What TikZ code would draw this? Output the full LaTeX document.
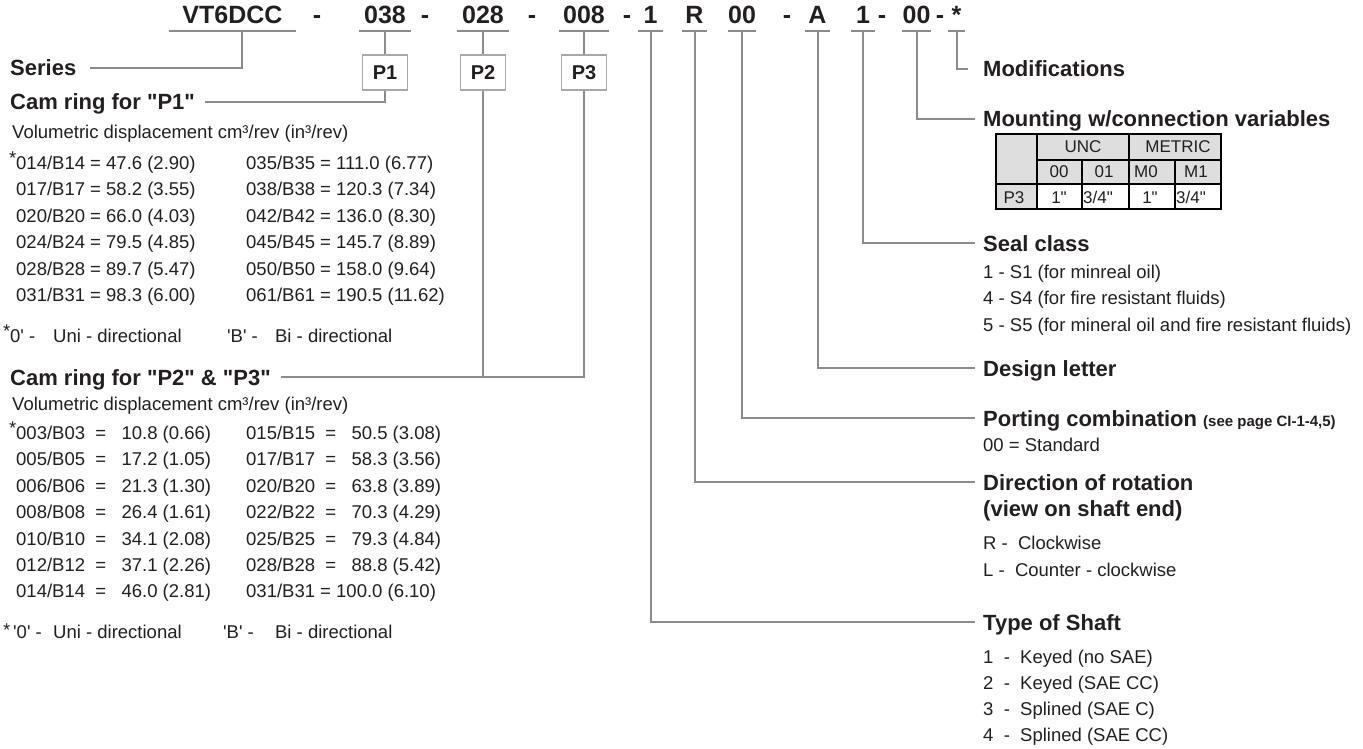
\documentclass[tikz,border=0pt]{standalone}
\usepackage{fontspec}
\setmainfont{Liberation Sans}[Ligatures=TeXOff]
\usetikzlibrary{calc}
\definecolor{ink}{HTML}{231F20}
\definecolor{leadgrey}{HTML}{8C8C8C}
\definecolor{boxgrey}{HTML}{A8A8A8}
\definecolor{cellgrey}{HTML}{DEDEDE}
\newcommand\bodyfont{\fontsize{18.5}{22}\selectfont}
\newcommand\headfont{\fontsize{22}{26}\selectfont\bfseries}
\newcommand\codefont{\fontsize{25}{30}\selectfont\bfseries}
\newcommand\boxfont{\fontsize{20}{24}\selectfont\bfseries}
\newcommand\tabfont{\fontsize{17}{20}\selectfont}
\newcommand\fnstar{\llap{\raisebox{5pt}{*}}}
\tikzset{
	lead/.style={draw=leadgrey, line width=2pt},
	codepart/.style={font=\codefont, text=ink, inner sep=0pt, anchor=south, text height=18pt, text depth=7pt},
	pbox/.style={draw=boxgrey, line width=1.5pt, font=\boxfont, text=ink, minimum width=45pt, minimum height=35pt, inner sep=0pt},
	head/.style={font=\headfont, text=ink, anchor=west, inner sep=0pt, text height=16pt, text depth=0pt},
	body/.style={font=\bodyfont, text=ink, anchor=west, inner sep=0pt, text height=13pt, text depth=0pt},
	cell/.style={font=\tabfont, text=ink, inner sep=0pt, text height=12pt, text depth=0pt},
	tabline/.style={draw=black, line width=1.6pt},
}

\begin{document}
\begin{tikzpicture}[x=1pt,y=-1pt]
	%%%%% START %%%%%
	\def\ucode{31}
	\def\ybox{72.5}
	\def\xr{983}
	\def\xl{16}
	\def\xll{246}
	\useasboundingbox (0,0) rectangle (1363,749);

	% code line
	\node[codepart, minimum width=127pt] (cvt) at (232.5,\ucode) {VT6DCC};
	\node[codepart, minimum width=52pt] (cpa) at (385,\ucode) {038};
	\node[codepart, minimum width=52pt] (cpb) at (483,\ucode) {028};
	\node[codepart, minimum width=50pt] (cpc) at (584,\ucode) {008};
	\node[codepart, minimum width=24pt] (cshaft) at (650.5,\ucode) {1};
	\node[codepart, minimum width=25pt] (crot) at (694.5,\ucode) {R};
	\node[codepart, minimum width=24pt] (cport) at (742,\ucode) {00};
	\node[codepart, minimum width=25pt] (cdes) at (817.5,\ucode) {A};
	\node[codepart, minimum width=24pt] (cseal) at (863,\ucode) {1};
	\node[codepart, minimum width=29pt] (cmount) at (916.5,\ucode) {00};
	\node[codepart, minimum width=17pt] (cmod) at (956.5,\ucode) {*};
	\foreach \x [count=\i] in {317,425,532,627,787,882,940}
		\node[codepart] (hy\i) at (\x,\ucode) {-};
	\foreach \n in {cvt,cpa,cpb,cpc,cshaft,crot,cport,cdes,cseal,cmount,cmod}
		\draw[lead] (\n.south west) -- (\n.south east);

	\node[pbox] (P1) at (385,\ybox) {P1};
	\node[pbox] (P2) at (483,\ybox) {P2};
	\node[pbox] (P3) at (584,\ybox) {P3};

	% left column
	\node[head] (series) at (10,68) {Series};
	\node[head] (camone) at (10,102) {Cam ring for "P1"};
	\node[body] (volone) at (12,132) {Volumetric displacement cm³/rev (in³/rev)};
	\foreach \t [count=\i] in {{\fnstar014/B14 = 47.6 (2.90)},{017/B17 = 58.2 (3.55)},{020/B20 = 66.0 (4.03)},{024/B24 = 79.5 (4.85)},{028/B28 = 89.7 (5.47)},{031/B31 = 98.3 (6.00)}}
		\node[body] (ra\i) at (\xl,{163+26.4*(\i-1)}) {\t};
	\foreach \t [count=\i] in {{035/B35 = 111.0 (6.77)},{038/B38 = 120.3 (7.34)},{042/B42 = 136.0 (8.30)},{045/B45 = 145.7 (8.89)},{050/B50 = 158.0 (9.64)},{061/B61 = 190.5 (11.62)}}
		\node[body] (rb\i) at (\xll,{163+26.4*(\i-1)}) {\t};
	\node[body] (fnone) at (10,336) {\makebox[43pt][l]{\fnstar0' -}\makebox[174pt][l]{Uni - directional}\makebox[48pt][l]{'B' -}Bi - directional};

	\node[head] (camtwo) at (10,377) {Cam ring for "P2" \& "P3"};
	\node[body] (voltwo) at (12,404) {Volumetric displacement cm³/rev (in³/rev)};
	\foreach \t [count=\i] in {{\fnstar003/B03~~=~~~10.8 (0.66)},{005/B05~~=~~~17.2 (1.05)},{006/B06~~=~~~21.3 (1.30)},{008/B08~~=~~~26.4 (1.61)},{010/B10~~=~~~34.1 (2.08)},{012/B12~~=~~~37.1 (2.26)},{014/B14~~=~~~46.0 (2.81)}}
		\node[body] (rc\i) at (\xl,{433+26.4*(\i-1)}) {\t};
	\foreach \t [count=\i] in {{015/B15~~=~~~50.5 (3.08)},{017/B17~~=~~~58.3 (3.56)},{020/B20~~=~~~63.8 (3.89)},{022/B22~~=~~~70.3 (4.29)},{025/B25~~=~~~79.3 (4.84)},{028/B28~~=~~~88.8 (5.42)},{031/B31 = 100.0 (6.10)}}
		\node[body] (rd\i) at (\xll,{433+26.4*(\i-1)}) {\t};
	\node[body] (fntwo) at (3,632) {\makebox[10pt][l]{\raisebox{2pt}{*}}\makebox[40pt][l]{'0' -}\makebox[170pt][l]{Uni - directional}\makebox[52pt][l]{'B' -}Bi - directional};

	% right column
	\node[head] (mods) at (\xr,69) {Modifications};
	\node[head] (mount) at (\xr,119) {Mounting w/connection variables};
	\node[head] (seal) at (\xr,243) {Seal class};
	\node[body] (sa) at (\xr,272) {1 - S1 (for minreal oil)};
	\node[body] (sb) at (\xr,298) {4 - S4 (for fire resistant fluids)};
	\node[body] (sc) at (\xr,325) {5 - S5 (for mineral oil and fire resistant fluids)};
	\node[head] (design) at (\xr,368) {Design letter};
	\node[head] (port) at (\xr,418) {Porting combination {\fontsize{15}{18}\selectfont(see page CI-1-4,5)}};
	\node[body] (pa) at (\xr,445) {00 = Standard};
	\node[head] (rot) at (\xr,482) {Direction of rotation};
	\node[head] (rotb) at (\xr,508) {(view on shaft end)};
	\node[body] (ra) at (\xr,543) {R~-~~Clockwise};
	\node[body] (rb) at (\xr,570) {L~-~~Counter - clockwise};
	\node[head] (shaft) at (\xr,622) {Type of Shaft};
	\foreach \t [count=\i] in {{1~~-~~Keyed (no SAE)},{2~~-~~Keyed (SAE CC)},{3~~-~~Splined (SAE C)},{4~~-~~Splined (SAE CC)}}
		\node[body] (sh\i) at (\xr,{657+26*(\i-1)}) {\t};

	% mounting table
	\fill[cellgrey] (996,134) rectangle (1221,184);
	\fill[cellgrey] (996,184) rectangle (1037,209);
	\draw[tabline] (996,134) rectangle (1221,209);
	\draw[tabline] (1037,134) -- (1037,209);
	\draw[tabline] (1129,134) -- (1129,209);
	\draw[tabline] (1037,160) -- (1221,160);
	\draw[tabline] (996,184) -- (1221,184);
	\draw[tabline] (1082,160) -- (1082,209);
	\draw[tabline] (1175,160) -- (1175,209);
	\node[cell] (tunc) at (1083,147) {UNC};
	\node[cell] (tmet) at (1178,147) {METRIC};
	\node[cell] (tza) at (1059,172) {00};
	\node[cell] (tzb) at (1104,172) {01};
	\node[cell] (tma) at (1146,172) {M0};
	\node[cell] (tmb) at (1196,172) {M1};
	\node[cell] (tp) at (1014,197) {P3};
	\node[cell] (ta) at (1059,197) {1"};
	\node[cell, anchor=west] (tb) at (1083,197) {3/4"};
	\node[cell] (tc) at (1150,197) {1"};
	\node[cell, anchor=west] (td) at (1176,197) {3/4"};

	% leaders
	\coordinate (vtleg) at (242,\ucode);
	\draw[lead] (vtleg) |- ([xshift=14pt]series.east);
	\draw[lead] (cpa.south) -- (P1.north);
	\draw[lead] (P1.south) |- ([xshift=10pt]camone.east);
	\draw[lead] (cpb.south) -- (P2.north);
	\draw[lead] (cpc.south) -- (P3.north);
	\draw[lead] (P2.south) |- ([xshift=10pt]camtwo.east);
	\draw[lead] (P3.south) |- ([xshift=10pt]camtwo.east);
	\draw[lead] (cmod.south) |- ([xshift=-15pt]mods.west);
	\draw[lead] (cmount.south) |- ([xshift=-8pt]mount.west);
	\draw[lead] (cseal.south) |- ([xshift=-8pt]seal.west);
	\draw[lead] (cdes.south) |- ([xshift=-8pt]design.west);
	\draw[lead] (cport.south) |- ([xshift=-8pt]port.west);
	\draw[lead] (crot.south) |- ([xshift=-8pt]rot.west);
	\draw[lead] (cshaft.south) |- ([xshift=-8pt]shaft.west);
	%%%%% START %%%%%
\end{tikzpicture}
\end{document}
